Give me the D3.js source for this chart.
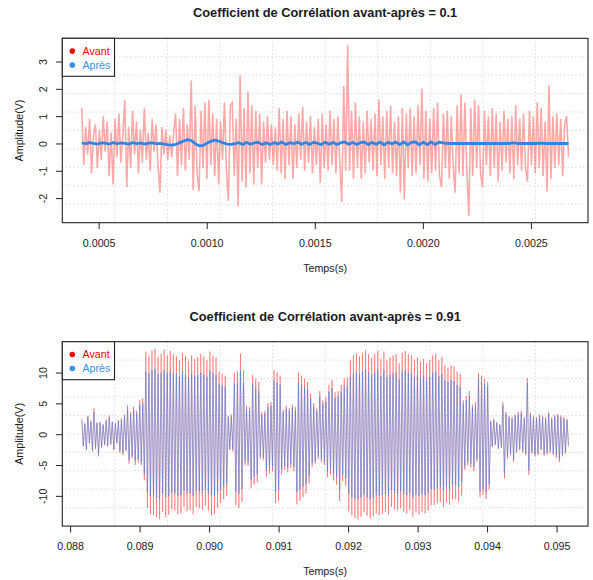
<!DOCTYPE html>
<html>
<head>
<meta charset="utf-8">
<script src="https://cdn.jsdelivr.net/npm/d3@7"></script>
<style>
  body { margin: 0; background: #fff; }
  text { font-family: "Liberation Sans", Arial, sans-serif; fill: #1a1a1a; }
</style>
</head>
<body>
<svg id="chart"></svg>
<script>
// ---- data ----
var seriesNames = ["Avant", "Après"];

// panel 1 : sample window and signals
var topTimeStart = 0.000422, topTimeEnd = 0.002674;
var topAvant = [
  1.3, -0.8, 0.6, -0.4, 0.9, -1.1, 0.3, 0.7, -0.9, 0.5,
  -0.6, 1.0, -0.3, 0.8, -1.2, 0.4, -1.5, 0.9, -0.5, 1.1,
  -0.7, 0.3, 1.6, -1.6, 0.6, -0.9, 1.2, -0.4, 0.8, -1.1,
  0.5, -0.7, 1.3, -0.6, 0.4, -1.0, 0.9, -0.3, 0.7, -0.8,
  -1.8, 0.6, -0.4, 0.5, -0.6, 0.3, -0.5, 0.4, 1.1, -1.2,
  0.9, -0.8, 1.3, -1.0, 0.7, -0.6, 2.3, -1.7, 1.4, -1.1,
  -1.75, 1.2, -0.9, 1.5, -1.3, 1.6, -0.8, 1.1, -1.2, 0.9,
  -1.5, 0.8, -0.6, 1.5, -1.0, -2.1, 1.4, 1.5, -1.2, 0.9,
  -2.3, 2.5, -1.4, 1.3, -1.6, 1.9, -1.1, 1.4, -1.5, 1.2,
  -0.9, 1.1, -1.5, 0.8, -0.7, 1.0, -0.6, 0.7, -0.8, 0.6,
  -1.0, 1.3, -1.1, 0.9, -1.3, 1.2, -0.8, 1.0, -1.3, 0.7,
  -0.9, 1.1, -0.6, 1.34, -1.0, 0.8, -0.7, 1.0, -1.1, 0.6,
  -0.8, 0.9, -1.45, 1.1, -0.9, 0.7, -1.0, 1.2, -0.8, 0.9,
  -1.1, 1.0, -0.7, -2.14, 2.1, -1.0, 3.6, -1.0, 1.2, -1.3,
  1.5, -0.9, 1.0, -1.3, 0.8, -1.1, 1.2, -0.7, 0.9, -1.0,
  1.1, -1.2, 1.6, -0.8, 1.0, -1.3, 1.2, -0.9, 1.4, -1.1,
  0.8, -1.2, 1.0, -1.8, 1.3, -2.05, 1.1, -0.9, 1.3, -1.2,
  1.0, -1.1, 1.4, -0.8, 2.0, -1.3, 1.2, -1.4, 0.9, -1.1,
  1.3, -1.0, 1.5, -1.2, -1.6, 1.1, -0.9, 1.2, -1.3, 1.0,
  -0.8, -1.8, 1.4, -1.1, 1.8, -1.2, 1.5, -1.0, -2.65, 1.3,
  -1.2, 1.6, -0.9, 1.4, -1.1, -1.6, 1.2, -0.8, 1.0, -1.2,
  1.3, -0.9, 1.1, -1.4, 0.8, -1.0, 1.2, -0.7, 0.9, -1.1,
  1.0, -1.3, 1.4, -0.8, 0.9, -1.0, 1.1, -0.9, -1.4, 1.2,
  -0.8, 1.0, -1.1, 1.5, -0.9, 1.3, -1.2, 0.8, -1.77, 2.13,
  -1.3, 1.0, -0.9, 1.1, -0.8, 0.9, -1.2, 0.7, 1.0, -0.5
];
var topApres = [
  0.02, -0.01, 0.03, 0.0, -0.02, 0.02, 0.01, -0.02, 0.03, -0.01,
  0.02, 0.0, -0.02, 0.03, -0.01, 0.02, -0.02, 0.01, 0.02, -0.01,
  0.0, -0.02, -0.05, -0.06, -0.03, 0.03, 0.09, 0.14, 0.1, -0.02,
  -0.09, -0.07, 0.02, 0.09, 0.12, 0.08, 0.02, -0.02, -0.03, -0.01,
  0.03, -0.04, 0.04, -0.03, 0.02, 0.04, -0.04, 0.03, -0.04, 0.03,
  -0.02, 0.05, -0.04, 0.03, -0.01, 0.05, -0.03, 0.04, -0.04, 0.04,
  0.01, -0.04, 0.05, -0.03, 0.04, -0.04, 0.03, 0.06, -0.03, 0.04,
  -0.04, 0.03, 0.05, -0.04, 0.04, -0.03, 0.05, -0.05, 0.04, -0.01,
  0.05, -0.04, 0.06, -0.05, 0.04, 0.06, -0.05, 0.05, -0.04, 0.06,
  -0.04, 0.05, 0.02, 0.0, 0.0, 0.0, 0.0, 0.0, 0.0, 0.0,
  0.0, 0.0, 0.0, 0.0, 0.0, 0.0, 0.0, 0.0, 0.0, 0.0,
  0.02, 0.0, 0.0, 0.0, 0.0, 0.0, 0.0, 0.01, 0.0, 0.0,
  0.0, 0.0, 0.0, 0.0, 0.0
];
var topXTicks = [0.0005, 0.0010, 0.0015, 0.0020, 0.0025];
var topYTicks = [-2, -1, 0, 1, 2, 3];
var topTitle = "Coefficient de Corrélation avant-après = 0.1";

// panel 2 : sample window and signals
var botTimeStart = 0.088168, botTimeEnd = 0.095172;
var botAvant = [
  2.5, -2.0, 1.8, -2.6, 3.0, -1.5, 2.2, -2.8, 4.2, -2.4,
  1.9, -3.6, 2.0, -2.2, 1.6, -1.8, 2.4, -2.0, 3.0, -1.7,
  2.1, -2.6, 1.8, -1.5, 2.3, -3.0, 2.6, -3.4, 3.2, -2.8,
  4.7, -4.8, 3.6, -3.9, 4.4, -5.0, 3.8, -4.6, 5.5, -5.0,
  5.8, -7.5, 13.4, -12.0, 12.8, -13.0, 13.6, -13.2, 13.9, -13.5,
  12.5, -13.8, 13.0, -12.6, 13.7, -13.4, 12.8, -13.1, 13.5, -12.2,
  13.0, -12.4, 12.7, -13.0, 12.0, -12.8, 13.2, -11.8, 12.6, -12.5,
  11.9, -12.3, 12.8, -13.0, 12.2, -11.8, 12.5, -12.0, 13.0, -12.3,
  12.6, -11.6, 12.0, -12.4, 13.4, -13.2, 12.8, -13.0, 12.5, -12.0,
  10.1, -11.2, 9.8, -10.6, 9.5, -10.0, 3.0, -2.6, 3.2, -2.8,
  10.0, -11.5, 10.2, -12.0, 13.1, -11.0, 10.4, -5.0, 4.6, -5.2,
  4.4, -8.8, 9.6, -8.2, 9.0, -7.8, 8.5, -4.0, 3.6, -4.2,
  3.8, -6.9, 5.0, -6.4, 5.2, -6.0, 10.4, -11.2, 10.0, -10.8,
  9.5, -6.5, 4.0, -5.8, 4.6, -6.2, 4.2, -5.5, 4.8, -6.0,
  4.4, -11.4, 10.0, -10.8, 9.5, -10.2, 9.0, -9.6, 8.5, -8.0,
  6.6, -5.3, 5.0, -4.8, 4.2, -4.0, 7.0, -4.5, 5.5, -5.0,
  6.0, -7.0, 8.0, -6.5, 8.8, -7.5, 6.8, -8.2, 7.0, -10.9,
  8.0, -7.6, 9.0, -8.4, 9.2, -12.5, 12.0, -13.2, 12.8, -13.6,
  13.0, -13.8, 12.6, -13.4, 13.1, -12.7, 13.6, -13.2, 13.0, -13.7,
  12.4, -13.3, 13.0, -12.8, 13.5, -13.1, 12.2, -12.9, 13.4, -12.6,
  12.0, -13.0, 12.5, -11.8, 12.8, -12.2, 13.0, -12.4, 11.5, -12.0,
  13.2, -12.6, 13.5, -12.9, 13.0, -12.3, 12.8, -13.4, 12.0, -12.7,
  12.4, -13.0, 11.8, -12.6, 12.2, -12.9, 11.6, -12.4, 12.0, -11.5,
  12.8, -11.5, 13.1, -11.2, 12.0, -11.0, 12.5, -11.8, 11.2, -11.0,
  10.8, -11.4, 11.2, -10.6, 11.0, -10.5, 10.2, -11.0, 9.8, -10.0,
  5.5, -5.8, 6.2, -5.0, 7.0, -5.4, 4.8, -6.0, 5.2, -4.5,
  9.9, -10.2, 9.5, -9.8, 9.0, -10.5, 8.5, -9.0, 2.2, -2.1,
  2.5, -1.8, 2.0, -2.4, 1.6, -2.2, 5.2, -7.2, 3.6, -4.0,
  3.0, -3.4, 2.8, -4.5, 3.2, -3.0, 3.6, -2.6, 3.8, -3.0,
  2.8, -3.4, 9.1, -6.6, 3.5, -3.2, 3.0, -3.6, 2.8, -3.4,
  3.2, -2.6, 3.0, -3.5, 2.8, -3.3, 3.6, -3.0, 2.7, -3.4,
  3.1, -3.8, 3.3, -4.5, 3.0, -3.6, 2.8, -3.2, 2.5, -2.0
];
var botApres = [
  2.3, -1.9, 1.6, -2.4, 2.8, -1.4, 2.0, -2.5, 3.6, -2.2,
  1.8, -3.2, 1.8, -2.0, 1.5, -1.7, 2.2, -1.8, 2.7, -1.6,
  1.9, -2.4, 1.7, -1.4, 2.1, -2.7, 2.4, -3.0, 2.9, -2.5,
  4.0, -4.2, 3.2, -3.5, 3.9, -4.4, 3.4, -4.1, 4.8, -4.5,
  5.0, -6.5, 10.2, -9.5, 9.9, -10.1, 10.4, -10.0, 10.6, -10.3,
  9.8, -10.5, 10.0, -9.7, 10.4, -10.2, 9.9, -10.1, 10.3, -9.5,
  10.0, -9.6, 9.8, -10.0, 9.4, -9.9, 10.2, -9.2, 9.7, -9.6,
  9.3, -9.5, 9.9, -10.0, 9.5, -9.2, 9.6, -9.3, 10.0, -9.5,
  9.7, -9.0, 9.3, -9.6, 10.3, -10.1, 9.9, -10.0, 9.6, -9.3,
  8.2, -9.0, 7.9, -8.5, 7.7, -8.1, 2.7, -2.4, 2.9, -2.5,
  8.1, -9.3, 8.3, -9.6, 10.4, -8.9, 8.4, -4.4, 4.1, -4.6,
  3.9, -7.3, 8.0, -6.9, 7.5, -6.6, 7.1, -3.6, 3.2, -3.8,
  3.4, -6.0, 4.4, -5.6, 4.6, -5.3, 8.7, -9.4, 8.4, -9.0,
  8.0, -5.7, 3.6, -5.1, 4.1, -5.4, 3.8, -4.9, 4.3, -5.3,
  3.9, -9.4, 8.4, -9.0, 8.0, -8.5, 7.6, -8.1, 7.2, -6.8,
  5.8, -4.7, 4.4, -4.3, 3.8, -3.6, 6.1, -4.0, 4.9, -4.5,
  5.3, -6.1, 6.9, -5.7, 7.5, -6.5, 5.9, -7.0, 6.1, -9.1,
  6.9, -6.6, 7.7, -7.2, 7.8, -9.6, 9.3, -10.2, 9.9, -10.5,
  10.0, -10.6, 9.7, -10.3, 10.1, -9.8, 10.5, -10.2, 10.0, -10.6,
  9.6, -10.3, 10.0, -9.9, 10.4, -10.1, 9.4, -9.9, 10.3, -9.7,
  9.3, -10.0, 9.6, -9.1, 9.9, -9.4, 10.0, -9.6, 8.9, -9.3,
  10.2, -9.7, 10.4, -9.9, 10.0, -9.5, 9.9, -10.3, 9.3, -9.8,
  9.6, -10.0, 9.1, -9.7, 9.4, -9.9, 9.0, -9.6, 9.3, -8.9,
  10.0, -9.0, 10.2, -8.8, 9.4, -8.6, 9.8, -9.2, 8.8, -8.6,
  8.5, -8.9, 8.8, -8.3, 8.6, -8.2, 8.0, -8.6, 7.7, -7.8,
  4.9, -5.2, 5.5, -4.5, 6.2, -4.8, 4.3, -5.3, 4.6, -4.0,
  9.0, -9.3, 8.6, -8.9, 8.2, -9.5, 7.7, -8.2, 2.0, -1.9,
  2.3, -1.6, 1.8, -2.2, 1.5, -2.0, 4.7, -6.4, 3.3, -3.6,
  2.7, -3.1, 2.5, -4.0, 2.9, -2.7, 3.2, -2.4, 3.4, -2.7,
  2.5, -3.1, 8.3, -5.9, 3.2, -2.9, 2.7, -3.3, 2.5, -3.1,
  2.9, -2.4, 2.7, -3.2, 2.5, -3.0, 3.3, -2.7, 2.4, -3.1,
  2.8, -3.4, 3.0, -4.0, 2.7, -3.3, 2.5, -2.9, 2.3, -1.8
];
var botXTicks = [0.088, 0.089, 0.090, 0.091, 0.092, 0.093, 0.094, 0.095];
var botYTicks = [-10, -5, 0, 5, 10];
var botTitle = "Coefficient de Corrélation avant-après = 0.91";

// ---- layout ----
var W = 593, H = 580;
var boxLeft = 62.3, boxRight = 588;
var panelTops = [38.3, 341.7];
var boxH = 184.4;

var legendCols = ["#ff0000", "#3a8fe8"];

var svg = d3.select("#chart").attr("width", W).attr("height", H);

function sampleTimes(t0, t1, n) {
  var step = (t1 - t0) / (n - 1);
  return d3.range(n).map(function (i) { return t0 + i * step; });
}

// R-like 4% extension of the data range
function padded(ext) {
  var d = (ext[1] - ext[0]) * 0.04;
  return [ext[0] - d, ext[1] + d];
}

function drawPanel(top, cfg) {
  var bottom = top + boxH;
  var g = svg.append("g");

  var tRed = sampleTimes(cfg.t0, cfg.t1, cfg.avant.length);
  var tBlue = sampleTimes(cfg.t0, cfg.t1, cfg.apres.length);

  var x = d3.scaleLinear()
    .domain(padded([cfg.t0, cfg.t1]))
    .range([boxLeft, boxRight]);
  var y = d3.scaleLinear()
    .domain(padded(d3.extent(cfg.avant.concat(cfg.apres))))
    .range([bottom, top]);

  // dotted 10x10 grid
  var gx = d3.range(1, 10).map(function (i) { return boxLeft + i * (boxRight - boxLeft) / 10; });
  var gy = d3.range(1, 10).map(function (i) { return top + i * boxH / 10; });
  g.selectAll(".gx").data(gx).enter().append("line")
    .attr("x1", function (d) { return d; }).attr("x2", function (d) { return d; })
    .attr("y1", top).attr("y2", bottom)
    .attr("stroke", "#d3d3d3").attr("stroke-dasharray", "1.2,2.6");
  g.selectAll(".gy").data(gy).enter().append("line")
    .attr("y1", function (d) { return d; }).attr("y2", function (d) { return d; })
    .attr("x1", boxLeft).attr("x2", boxRight)
    .attr("stroke", "#d3d3d3").attr("stroke-dasharray", "1.2,2.6");

  var line = d3.line()
    .x(function (d) { return x(d[0]); })
    .y(function (d) { return y(d[1]); });

  g.append("path")
    .datum(d3.zip(tRed, cfg.avant))
    .attr("d", line)
    .attr("fill", "none")
    .attr("stroke", cfg.red)
    .attr("stroke-width", cfg.redWidth);

  g.append("path")
    .datum(d3.zip(tBlue, cfg.apres))
    .attr("d", line)
    .attr("fill", "none")
    .attr("stroke", cfg.blue)
    .attr("stroke-width", cfg.blueWidth)
    .attr("stroke-linejoin", "round");

  // box
  g.append("rect")
    .attr("x", boxLeft).attr("y", top)
    .attr("width", boxRight - boxLeft).attr("height", boxH)
    .attr("fill", "none").attr("stroke", "#222").attr("stroke-width", 1.1);

  // axes
  var ax = g.append("g")
    .attr("transform", "translate(0," + bottom + ")")
    .call(d3.axisBottom(x).tickValues(cfg.xTicks).tickFormat(d3.format(cfg.xFmt)).tickSize(6.4).tickPadding(10));
  ax.select(".domain").remove();
  ax.selectAll("line").attr("stroke", "#222");
  ax.selectAll("text").attr("font-size", "10.7px").attr("fill", "#1a1a1a");

  var ay = g.append("g")
    .attr("transform", "translate(" + boxLeft + ",0)")
    .call(d3.axisLeft(y).tickValues(cfg.yTicks).tickFormat(d3.format("d")).tickSize(6.4));
  ay.select(".domain").remove();
  ay.selectAll("line").attr("stroke", "#222");
  ay.selectAll("text")
    .attr("transform", "rotate(-90)")
    .attr("x", 0).attr("y", -15.4).attr("dy", 0)
    .attr("text-anchor", "middle")
    .attr("font-size", "10.7px").attr("fill", "#1a1a1a")
    .text(function (d) { return d < 0 ? "-" + Math.abs(d) : d; });

  // labels
  g.append("text")
    .attr("x", (boxLeft + boxRight) / 2).attr("y", top - 21)
    .attr("text-anchor", "middle")
    .attr("font-size", "12.8px").attr("font-weight", "bold")
    .text(cfg.title);
  g.append("text")
    .attr("x", (boxLeft + boxRight) / 2).attr("y", bottom + 48.8)
    .attr("text-anchor", "middle")
    .attr("font-size", "10.7px")
    .text("Temps(s)");
  g.append("text")
    .attr("transform", "translate(23," + (top + boxH / 2) + ") rotate(-90)")
    .attr("text-anchor", "middle")
    .attr("font-size", "10.7px")
    .text("Amplitude(V)");

  // legend
  var lg = g.append("g").attr("transform", "translate(" + boxLeft + "," + top + ")");
  lg.append("rect")
    .attr("x", 0).attr("y", 0).attr("width", 52.2).attr("height", 38)
    .attr("fill", "#fff").attr("stroke", "#222").attr("stroke-width", 1.1);
  var items = lg.selectAll(".item").data(seriesNames).enter().append("g")
    .attr("transform", function (d, i) { return "translate(0," + (12.8 + i * 14) + ")"; });
  items.append("circle")
    .attr("cx", 10).attr("cy", 0).attr("r", 2.8)
    .attr("fill", function (d, i) { return legendCols[i]; });
  items.append("text")
    .attr("x", 20.2).attr("y", 3.9)
    .attr("font-size", "10.7px")
    .style("fill", function (d, i) { return legendCols[i]; })
    .text(function (d) { return d; });
}

drawPanel(panelTops[0], {
  t0: topTimeStart, t1: topTimeEnd, avant: topAvant, apres: topApres,
  xTicks: topXTicks, yTicks: topYTicks, xFmt: ".4f", title: topTitle,
  red: "rgba(255,0,0,0.34)", redWidth: 1.6,
  blue: "#2c86e6", blueWidth: 2.8
});
drawPanel(panelTops[1], {
  t0: botTimeStart, t1: botTimeEnd, avant: botAvant, apres: botApres,
  xTicks: botXTicks, yTicks: botYTicks, xFmt: ".3f", title: botTitle,
  red: "rgba(255,0,0,0.36)", redWidth: 0.9,
  blue: "rgba(45,128,238,0.7)", blueWidth: 0.7
});
</script>
</body>
</html>
